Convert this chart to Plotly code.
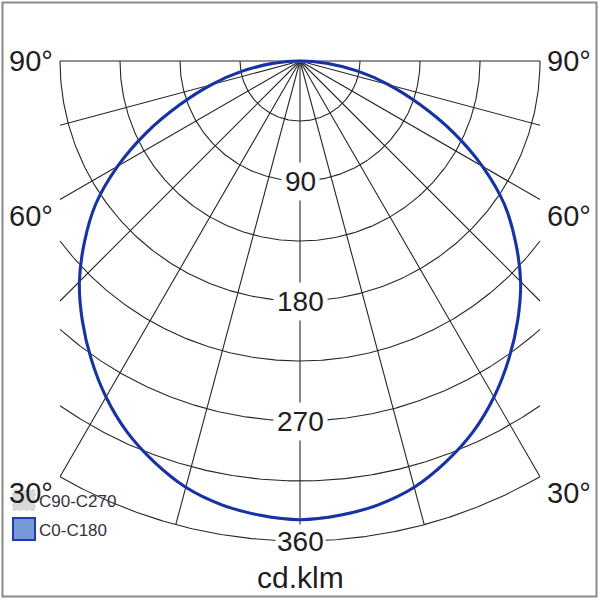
import numpy as np
import plotly.graph_objects as go

# ---- data (cd/klm versus gamma angle, degrees) ----
gamma_deg = [0, 5, 10, 15, 20, 25, 30, 35, 40, 45, 50, 55, 60, 65, 70, 75, 80, 85, 90]
c0_c180 = [344, 342, 338, 331, 320, 307, 291, 273, 254, 234, 211, 187, 158, 127, 96, 69, 44, 20, 0]
c90_c270 = [344, 342, 338, 331, 320, 307, 291, 273, 254, 234, 211, 187, 158, 127, 96, 69, 44, 20, 0]

ring_values = [45, 90, 135, 180, 225, 270, 315, 360]
ring_labels = ["90", "180", "270", "360"]
spoke_angles = list(range(-90, 91, 15))
angle_labels = ["90°", "60°", "30°"]
unit_label = "cd.klm"
series_names = ["C90-C270", "C0-C180"]

R_MAX = 360.0
HALF_W = 180.0  # side clipping of the diagram (cd/klm units)

GRID = "#262626"
BLUE = "#1633a6"
TXT = "#1e1e1e"
FONT = "Liberation Sans, Arial"


def to_xy(theta_deg, r):
    t = np.radians(np.asarray(theta_deg, dtype=float))
    r = np.asarray(r, dtype=float)
    return r * np.sin(t), -r * np.cos(t)


fig = go.Figure()

# rings (clipped at the sides)
for rv in ring_values:
    tmax = 90.0 if rv <= HALF_W else np.degrees(np.arcsin(HALF_W / rv))
    th = np.linspace(-tmax, tmax, 241)
    x, y = to_xy(th, np.full_like(th, rv))
    fig.add_trace(go.Scatter(x=x, y=y, mode="lines", line=dict(color=GRID, width=1.1),
                             hoverinfo="skip", showlegend=False))

# spokes
for a in spoke_angles:
    s = abs(np.sin(np.radians(a)))
    r_end = R_MAX if s * R_MAX <= HALF_W else HALF_W / s
    x, y = to_xy([a, a], [0, r_end])
    fig.add_trace(go.Scatter(x=x, y=y, mode="lines", line=dict(color=GRID, width=1.1),
                             hoverinfo="skip", showlegend=False))


def full_curve(vals):
    th = [-g for g in gamma_deg[::-1]] + gamma_deg[1:]
    rr = vals[::-1] + vals[1:]
    return to_xy(th, rr)


x90, y90 = full_curve(c90_c270)
fig.add_trace(go.Scatter(x=x90, y=y90, mode="lines", name=series_names[0],
                         line=dict(color="#c8c8c8", width=3, shape="spline", smoothing=1),
                         showlegend=False))
x0, y0 = full_curve(c0_c180)
fig.add_trace(go.Scatter(x=x0, y=y0, mode="lines", name=series_names[1],
                         line=dict(color=BLUE, width=3, shape="spline", smoothing=1),
                         showlegend=False))

annotations = []
# ring labels on the vertical axis
for lab in ring_labels:
    rv = float(lab)
    annotations.append(dict(x=0, y=-rv, xref="x", yref="y", text=lab, showarrow=False,
                            font=dict(size=28, color=TXT, family=FONT),
                            bgcolor="white", borderpad=3 if lab != "360" else 1,
                            xanchor="center", yanchor="middle"))

# angle labels on both sides
for lab in angle_labels:
    a = float(lab.rstrip("°"))
    s = np.sin(np.radians(a))
    r_end = R_MAX if s * R_MAX <= HALF_W else HALF_W / s
    yv = -r_end * np.cos(np.radians(a))
    shift = 0 if a == 90 else -16
    for side in (-1, 1):
        annotations.append(dict(x=side * 202, y=yv, xref="x", yref="y", text=lab,
                                showarrow=False, yshift=shift,
                                font=dict(size=29, color=TXT, family=FONT),
                                xanchor="center", yanchor="middle"))

annotations.append(dict(x=0.5, y=1 - 577 / 600, xref="paper", yref="paper", text=unit_label,
                        showarrow=False, font=dict(size=30, color=TXT, family=FONT),
                        xanchor="center", yanchor="middle"))

# legend texts
annotations.append(dict(x=37 / 600, y=1 - 501 / 600, xref="paper", yref="paper", text=series_names[0],
                        showarrow=False, font=dict(size=17, color="#333340", family=FONT),
                        xanchor="left", yanchor="middle"))
annotations.append(dict(x=37 / 600, y=1 - 530 / 600, xref="paper", yref="paper", text=series_names[1],
                        showarrow=False, font=dict(size=17, color="#333340", family=FONT),
                        xanchor="left", yanchor="middle"))

shapes = [
    dict(type="rect", xref="paper", yref="paper", x0=2.5 / 600, x1=596.5 / 600,
         y0=1 - 596.5 / 600, y1=1 - 2.5 / 600, line=dict(color="#8a8a8a", width=2)),
    dict(type="rect", xref="paper", yref="paper", x0=13 / 600, x1=35 / 600,
         y0=1 - 510 / 600, y1=1 - 490 / 600, fillcolor="#d9d9d9",
         line=dict(color="#c4c4c4", width=1, dash="dot")),
    dict(type="rect", xref="paper", yref="paper", x0=13 / 600, x1=35 / 600,
         y0=1 - 540 / 600, y1=1 - 518 / 600, fillcolor="#7699da",
         line=dict(color="#1f3ca8", width=2)),
]

fig.update_layout(
    width=600, height=600, autosize=False,
    margin=dict(l=0, r=0, t=0, b=0),
    paper_bgcolor="white", plot_bgcolor="white",
    xaxis=dict(range=[-225, 225], visible=False, fixedrange=True),
    yaxis=dict(range=[-404.25, 45.75], visible=False, fixedrange=True),
    annotations=annotations, shapes=shapes, showlegend=False,
)

fig.write_html("out.html", config={"displayModeBar": False},
               post_script="document.body.style.margin='0';document.body.style.padding='0';")
